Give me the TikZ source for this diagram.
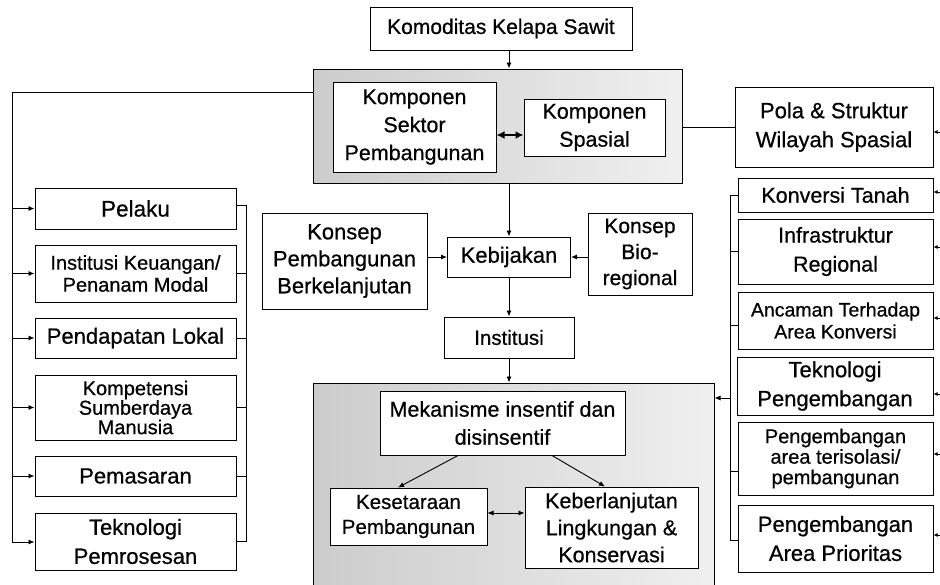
\documentclass[tikz,border=0pt]{standalone}
\usepackage{fontspec}
\setmainfont{Liberation Sans}[FakeBold=0.6]
\usetikzlibrary{arrows.meta,calc}
\newcommand\myfs[2]{\fontsize{#1}{#2}\selectfont}
\tikzset{
  box/.style={draw, line width=1pt, fill=white, align=center, inner sep=1pt, font=\myfs{21}{27}},
  smallbox/.style={box, font=\myfs{20}{22}},
  graybox/.style={draw, line width=1pt, left color=gray!40, right color=gray!12},
  arr/.style={-{Latex[length=6pt,width=5pt]}, line width=0.9pt},
  dbl/.style={{Latex[length=6pt,width=5pt]}-{Latex[length=6pt,width=5pt]}, line width=0.7pt},
  ln/.style={line width=0.9pt},
}
\begin{document}
\begin{tikzpicture}[x=1pt,y=-1pt]
\useasboundingbox (0,0) rectangle (940,584);
\clip (0,0) rectangle (940,584);
\fill[white] (0,0) rectangle (940,584);

% gray frames
\node[graybox, minimum width=369pt, minimum height=114pt] (g1) at (497.5,126) {};
\node[graybox, minimum width=401pt, minimum height=210pt] (g2) at (513.5,488) {};

% top
\node[box, minimum width=262pt, minimum height=43pt] (top) at (501,28.5) {Komoditas Kelapa Sawit};
\node[box, minimum width=163pt, minimum height=90pt, font=\myfs{21.5}{28}] (sektor) at (414.5,127) {Komponen\\Sektor\\Pembangunan};
\node[box, minimum width=141pt, minimum height=57pt, font=\myfs{21.5}{28}] (spasial) at (594.5,127.5) {Komponen\\Spasial};
\node[box, minimum width=198pt, minimum height=80pt, font=\myfs{22}{29}] (pola) at (834,127) {Pola \& Struktur\\Wilayah Spasial};

% left column
\node[box, minimum width=201pt, minimum height=41pt, font=\myfs{22.5}{27}] (pelaku) at (135.5,208.5) {Pelaku};
\node[smallbox, minimum width=201pt, minimum height=57pt] (inst) at (135.5,273.5) {Institusi Keuangan/\\Penanam Modal};
\node[box, minimum width=201pt, minimum height=40pt, font=\myfs{22}{27}] (pend) at (135.5,338) {Pendapatan Lokal};
\node[smallbox, minimum width=201pt, minimum height=65pt, font=\myfs{20}{19.5}] (komp) at (135.5,407.5) {Kompetensi\\Sumberdaya\\Manusia};
\node[box, minimum width=201pt, minimum height=40pt, font=\myfs{22}{27}] (pemas) at (135.5,476) {Pemasaran};
\node[box, minimum width=201pt, minimum height=57pt, font=\myfs{22}{29}] (tekp) at (135.5,541.5) {Teknologi\\Pemrosesan};

% middle
\node[box, minimum width=165pt, minimum height=96pt, font=\myfs{22}{27}] (kpb) at (344.5,261) {Konsep\\Pembangunan\\Berkelanjutan};
\node[box, minimum width=123pt, minimum height=40pt, font=\myfs{22}{27}] (kebij) at (509,257) {Kebijakan};
\node[box, minimum width=104pt, minimum height=82pt, font=\myfs{21}{26}] (bio) at (640,254) {Konsep\\Bio-\\regional};
\node[box, minimum width=130pt, minimum height=41pt, font=\myfs{20.5}{24}] (instit) at (509,337.5) {Institusi};

% bottom frame content
\node[box, minimum width=245pt, minimum height=64pt, font=\myfs{21.5}{28}] (mek) at (502.5,423) {Mekanisme insentif dan\\disinsentif};
\node[box, minimum width=157pt, minimum height=57pt, font=\myfs{20.5}{25}] (kes) at (408.5,516.5) {Kesetaraan\\Pembangunan};
\node[box, minimum width=173pt, minimum height=81pt, font=\myfs{21.5}{27}] (keb) at (611.5,527.5) {Keberlanjutan\\Lingkungan \&\\Konservasi};

% right column
\node[box, minimum width=195pt, minimum height=34pt, font=\myfs{21.5}{27}] (konv) at (835.5,195) {Konversi Tanah};
\node[box, minimum width=195pt, minimum height=65pt, font=\myfs{21.5}{29}] (infra) at (835.5,251.5) {Infrastruktur\\Regional};
\node[smallbox, minimum width=195pt, minimum height=57pt, font=\myfs{19.5}{22}] (anc) at (835.5,320.5) {Ancaman Terhadap\\Area Konversi};
\node[box, minimum width=196pt, minimum height=58pt, font=\myfs{22}{29}] (tekb) at (835,386) {Teknologi\\Pengembangan};
\node[smallbox, minimum width=195pt, minimum height=73pt, font=\myfs{20}{20.5}] (teris) at (835.5,458.5) {Pengembangan\\area terisolasi/\\pembangunan};
\node[box, minimum width=195pt, minimum height=67pt, font=\myfs{22}{29}] (prior) at (835.5,538.5) {Pengembangan\\Area Prioritas};

% vertical spine
\draw[arr] (top.south -| kebij.north) -- (g1.north -| kebij.north);
\draw[arr] (g1.south -| kebij.north) -- (kebij.north);
\draw[arr] (kebij.south -| instit.north) -- (instit.north);
\draw[arr] (instit.south) -- (g2.north -| instit.south);
\draw[arr] (kpb.east |- kebij.west) -- (kebij.west);
\draw[arr] (bio.west |- kebij.east) -- (kebij.east);

% inside top frame
\draw[{Latex[length=8pt,width=8pt]}-{Latex[length=8pt,width=8pt]}, line width=1.6pt] ([yshift=-8pt]sektor.east) -- ([yshift=-8pt]sektor.east -| spasial.west);
\draw[ln] (g1.east |- pola.west) -- (pola.west);

% left spine
\coordinate (lt) at (12,92);
\coordinate (lb) at (12,542);
\draw[ln] (lt -| g1.west) -- (lt) -- (lb);
\draw[arr] (lt |- pelaku.west) -- (pelaku.west);
\draw[arr] (lt |- inst.west) -- (inst.west);
\draw[arr] (lt |- pend.west) -- (pend.west);
\draw[arr] (lt |- komp.west) -- (komp.west);
\draw[arr] (lt |- pemas.west) -- (pemas.west);
\draw[arr] (lb) -- (lb -| tekp.west);

% left bracket
\coordinate (rb) at (246,0);
\draw[ln] ([yshift=3pt]pelaku.east) -- ([yshift=3pt]pelaku.east -| rb) -- (tekp.east -| rb) -- (tekp.east);
\draw[ln] (inst.east) -- (inst.east -| rb);
\draw[ln] (pend.east) -- (pend.east -| rb);
\draw[ln] (komp.east) -- (komp.east -| rb);
\draw[ln] (pemas.east) -- (pemas.east -| rb);

% right bracket
\coordinate (rr) at (730,0);
\draw[ln] (konv.west) -- (konv.west -| rr) -- ([yshift=-1.5pt]prior.west -| rr) -- ([yshift=-1.5pt]prior.west);
\draw[ln] (infra.west) -- (infra.west -| rr);
\draw[ln] ([yshift=-5pt]anc.west) -- ([yshift=-5pt]anc.west -| rr);
\draw[ln] ([yshift=-13pt]teris.west) -- ([yshift=-13pt]teris.west -| rr);
\coordinate (rm) at (730,398);
\draw[arr] (rm) -- (rm -| g2.east);

% right edge arrows
\foreach \n/\dy in {pola/-5, konv/3, infra/4.5, anc/2.5, tekb/-8, teris/4.5, prior/3.5}{
  \draw[-{Latex[length=4pt,width=4pt]}, line width=0.8pt] ([xshift=8pt,yshift=\dy pt]\n.east) -- ([yshift=\dy pt]\n.east);
}

% bottom frame arrows
\draw[arr] ([xshift=-44.5pt]mek.south) -- ([xshift=-10.5pt]kes.north);
\draw[arr] ([xshift=49.5pt]mek.south) -- ([xshift=-6.5pt]keb.north);
\draw[dbl] ([yshift=3.5pt]kes.east) -- ([yshift=3.5pt]kes.east -| keb.west);
\end{tikzpicture}
\end{document}
